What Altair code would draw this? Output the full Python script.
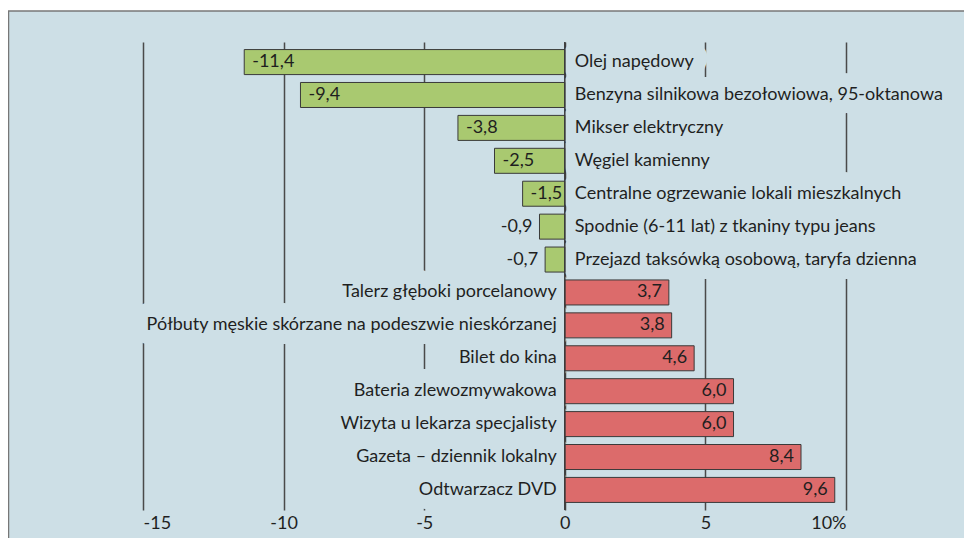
import altair as alt
import pandas as pd

categories = [
    "Olej napędowy",
    "Benzyna silnikowa bezołowiowa, 95-oktanowa",
    "Mikser elektryczny",
    "Węgiel kamienny",
    "Centralne ogrzewanie lokali mieszkalnych",
    "Spodnie (6-11 lat) z tkaniny typu jeans",
    "Przejazd taksówką osobową, taryfa dzienna",
    "Talerz głęboki porcelanowy",
    "Półbuty męskie skórzane na podeszwie nieskórzanej",
    "Bilet do kina",
    "Bateria zlewozmywakowa",
    "Wizyta u lekarza specjalisty",
    "Gazeta – dziennik lokalny",
    "Odtwarzacz DVD",
]
values = [-11.4, -9.4, -3.8, -2.5, -1.5, -0.9, -0.7, 3.7, 3.8, 4.6, 6.0, 6.0, 8.4, 9.6]
tick_values = [-15, -10, -5, 0, 5, 10]

PANEL = "#cddfe6"
GREEN = "#a9c970"
RED = "#dc6b6b"
TEXT = "#1f1f1f"
FONT = "Lato"
FS = 18

df = pd.DataFrame({
    "cat": categories,
    "val": values,
    "lbl": [f"{v:.1f}".replace(".", ",") for v in values],
    "sign": ["neg" if v < 0 else "pos" for v in values],
})

xscale = alt.Scale(domain=[-15, 10], nice=False, zero=False)
yscale = alt.Scale(paddingInner=0.24, paddingOuter=0.23)

x_enc = alt.X(
    "val:Q",
    scale=xscale,
    axis=alt.Axis(
        values=tick_values,
        grid=True,
        gridColor="#4a4a4a",
        gridWidth=1.5,
        domain=False,
        ticks=False,
        labelPadding=4,
        labelFont=FONT,
        labelFontSize=FS,
        labelColor=TEXT,
        labelExpr="datum.value == 10 ? '10%' : '' + datum.value",
        title=None,
    ),
)
y_enc = alt.Y("cat:N", sort=categories, scale=yscale, axis=None)

base = alt.Chart(df)

one = pd.DataFrame({"a": [0]})
top_strip = alt.Chart(one).mark_rect(fill="white").encode(
    x=alt.value(-140), x2=alt.value(900), y=alt.value(-40), y2=alt.value(-31)
)
top_border = alt.Chart(one).mark_rule(color="#777777", strokeWidth=1.5).encode(
    x=alt.value(-135), x2=alt.value(900), y=alt.value(-31)
)
left_border = alt.Chart(one).mark_rule(color="#777777", strokeWidth=1.5).encode(
    x=alt.value(-134.5), y=alt.value(-31), y2=alt.value(600)
)

grid_anchor = base.mark_point(opacity=0).encode(x=x_enc, y=y_enc)

halo_right = base.transform_filter("datum.val < 0").mark_text(
    align="left", baseline="middle", dx=10, font=FONT, fontSize=FS,
    fill=PANEL, stroke=PANEL, strokeWidth=28, strokeJoin="round",
).encode(x=alt.datum(0, scale=xscale), y=y_enc, text="cat:N")

halo_left = base.transform_filter("datum.val > 0").mark_text(
    align="right", baseline="middle", dx=-8, font=FONT, fontSize=FS,
    fill=PANEL, stroke=PANEL, strokeWidth=28, strokeJoin="round",
).encode(x=alt.datum(0, scale=xscale), y=y_enc, text="cat:N")

bars = base.mark_bar(stroke="#3a3a3a", strokeWidth=1).encode(
    x=alt.X("val:Q", scale=xscale),
    x2=alt.datum(0),
    y=y_enc,
    color=alt.Color("sign:N", scale=alt.Scale(domain=["neg", "pos"], range=[GREEN, RED]), legend=None),
)

zero_line = alt.Chart(pd.DataFrame({"z": [0]})).mark_rule(color="#3a3a3a", strokeWidth=1.5).encode(
    x=alt.X("z:Q", scale=xscale), y=alt.value(0), y2=alt.value(468)
)

text_right = base.transform_filter("datum.val < 0").mark_text(
    align="left", baseline="middle", dx=10, font=FONT, fontSize=FS, color=TEXT,
).encode(x=alt.datum(0, scale=xscale), y=y_enc, text="cat:N")

text_left = base.transform_filter("datum.val > 0").mark_text(
    align="right", baseline="middle", dx=-8, font=FONT, fontSize=FS, color=TEXT,
).encode(x=alt.datum(0, scale=xscale), y=y_enc, text="cat:N")

val_in_left = base.transform_filter("datum.val <= -1.5").mark_text(
    align="left", baseline="middle", dx=8, font=FONT, fontSize=FS, color=TEXT,
).encode(x=alt.X("val:Q", scale=xscale), y=y_enc, text="lbl:N")

val_right = base.transform_filter("datum.val > -1.5").mark_text(
    align="right", baseline="middle", dx=-7, font=FONT, fontSize=FS, color=TEXT,
).encode(x=alt.X("val:Q", scale=xscale), y=y_enc, text="lbl:N")

chart = alt.layer(
    top_strip, top_border, left_border, grid_anchor, halo_right, halo_left, bars, zero_line,
    text_right, text_left, val_in_left, val_right,
).properties(
    width=703,
    height=468,
    autosize=alt.AutoSizeParams(type="none"),
    padding={"left": 135, "top": 34, "right": 118, "bottom": 28},
    background=PANEL,
).configure_view(stroke=None)

chart.save("out.html", embed_options={"renderer": "svg", "actions": False})
